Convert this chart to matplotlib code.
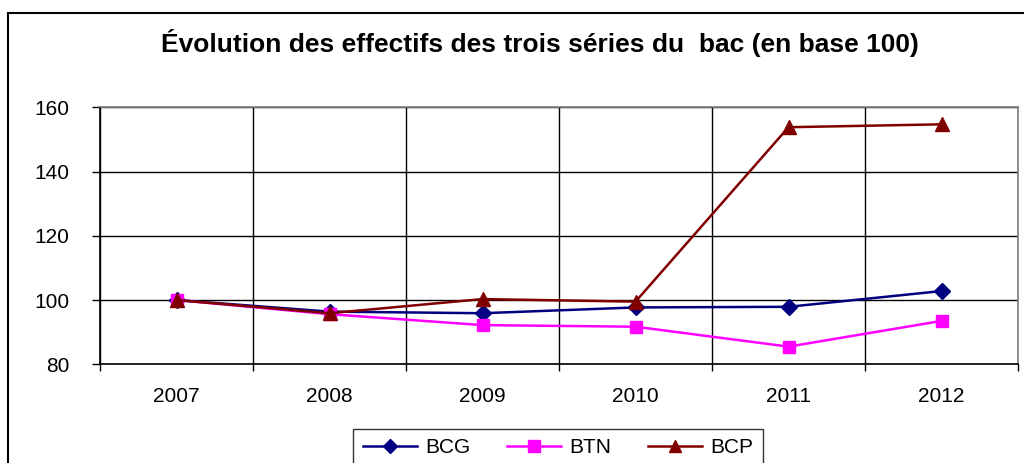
import matplotlib
matplotlib.use("Agg")
import matplotlib.pyplot as plt
from matplotlib.patches import Rectangle

plt.rcParams['font.family'] = ['Liberation Sans', 'DejaVu Sans']

# données (base 100 en 2007)
annees = ['2007', '2008', '2009', '2010', '2011', '2012']
bcg = [100, 96.4, 95.9, 97.7, 97.9, 102.8]
btn = [100, 95.6, 92.2, 91.7, 85.5, 93.5]
bcp = [100, 95.9, 100.3, 99.5, 153.8, 154.7]
y_ticks = [80, 100, 120, 140, 160]

W, H = 1024, 463
fig = plt.figure(figsize=(W / 100, H / 100), dpi=100)
ax = fig.add_axes([100 / W, 1 - 364.3 / H, 918 / W, 257 / H])

x = list(range(len(annees)))
ax.plot(x, bcg, color='#000080', lw=1.8, marker='D', ms=8, label='BCG', clip_on=False, zorder=3)
ax.plot(x, btn, color='#FF00FF', lw=1.8, marker='s', ms=9, label='BTN', clip_on=False, zorder=3)
ax.plot(x, bcp, color='#800000', lw=1.8, marker='^', ms=10, label='BCP', clip_on=False, zorder=3)

# axes
ax.set_xlim(-0.5, len(annees) - 0.5)
ax.set_ylim(80, 160)
ax.set_yticks(y_ticks)
ax.set_yticklabels([str(v) for v in y_ticks], fontsize=15)
ax.set_xticks([i - 0.5 for i in range(len(annees) + 1)])
ax.set_xticklabels([])
ax.set_xticks(x, minor=True)
ax.set_xticklabels(annees, minor=True, fontsize=15)
ax.tick_params(axis='x', which='major', direction='out', length=5, width=1, color='black')
ax.tick_params(axis='x', which='minor', length=0, pad=16)
ax.tick_params(axis='y', direction='out', length=6, width=1, pad=16)

ax.grid(True, which='major', color='black', lw=1)
ax.set_axisbelow(True)
ax.spines['left'].set_color('black')
ax.spines['bottom'].set_color('black')
ax.spines['top'].set_color('#808080')
ax.spines['right'].set_color('#808080')
for s in ax.spines.values():
    s.set_linewidth(1.2)

fig.text(540 / W, 1 - 43 / H, "Évolution des effectifs des trois séries du  bac (en base 100)",
         ha='center', va='center', fontsize=19, fontweight='bold')

leg = fig.legend(loc='upper center', bbox_to_anchor=(558 / W, 1 - 429 / H), ncol=3,
                 fontsize=15, frameon=True, fancybox=False, edgecolor='black',
                 handlelength=2.6, columnspacing=1.75, handletextpad=0.4,
                 borderpad=0.45, borderaxespad=0, markerscale=0.9)
leg.get_frame().set_linewidth(1.0)

# cadre extérieur
fig.patches.append(Rectangle((8 / W, -0.05), 1.05, 1 - 13 / H + 0.05, transform=fig.transFigure,
                             fill=False, edgecolor='black', lw=1.5, clip_on=False))

fig.savefig('out.png', dpi=100)
